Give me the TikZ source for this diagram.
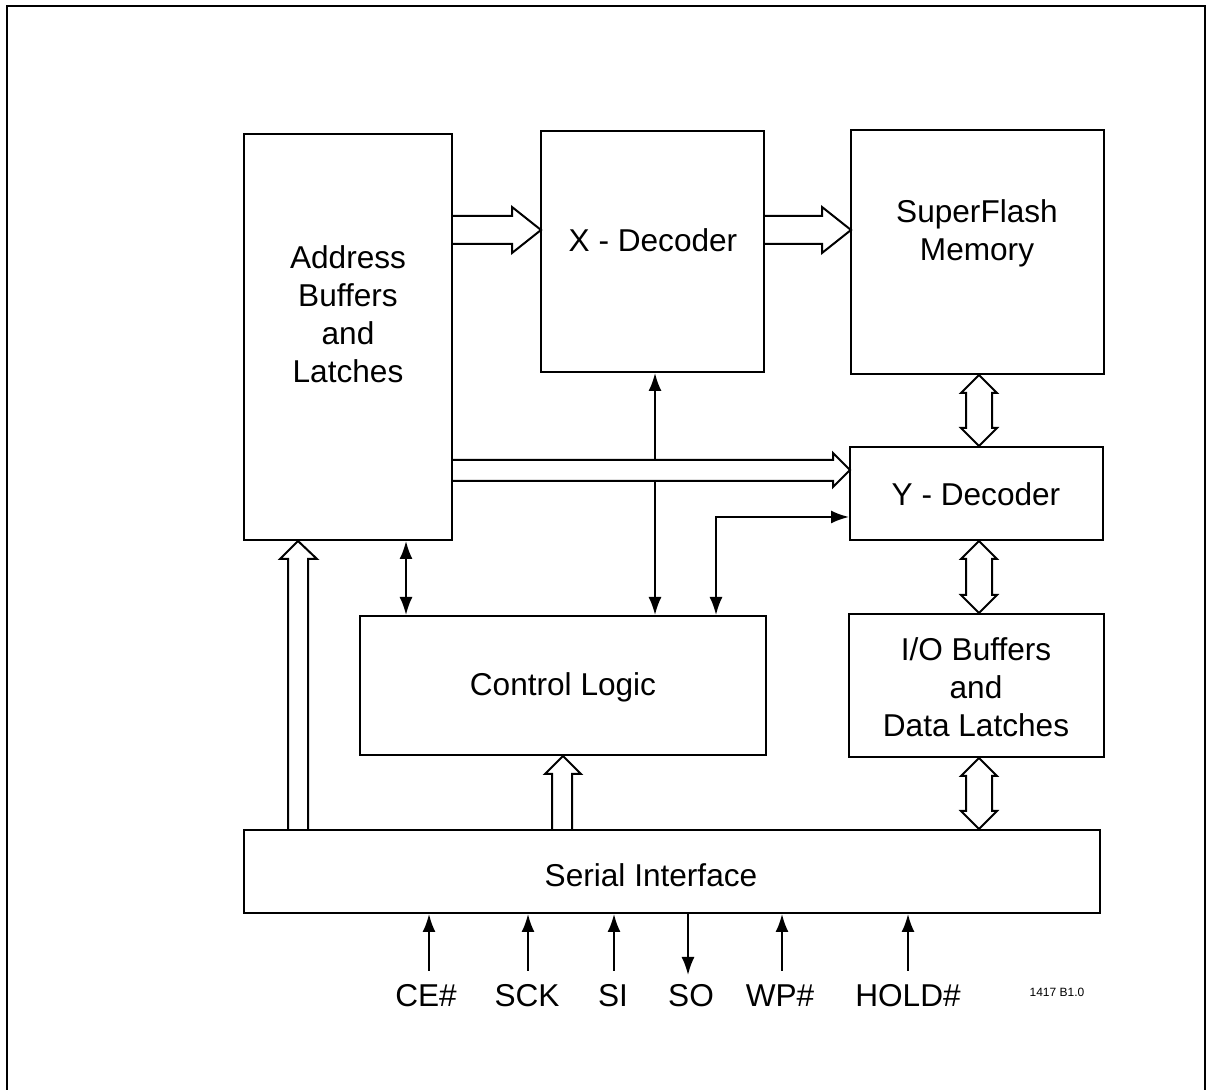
\documentclass[tikz,border=0pt]{standalone}
\usepackage{fontspec}
\setmainfont{Liberation Sans}
\usetikzlibrary{arrows.meta,fit}
\pgfdeclarelayer{background}
\pgfsetlayers{background,main}
\begin{document}
\begin{tikzpicture}[x=0.5pt,y=-0.5pt,
  box/.style={draw, line width=1pt, inner sep=0pt},
  txt/.style={font=\fontsize{15.8}{19}\selectfont, align=center, inner sep=0pt},
  hollow/.style={draw, fill=white, line width=1pt, line join=miter},
  sig/.style={line width=1pt, -{Latex[length=9pt,width=6.5pt]}},
  sigb/.style={line width=1pt, {Latex[length=9pt,width=6.5pt]}-{Latex[length=9pt,width=6.5pt]}}]
\useasboundingbox (0,0) rectangle (1212,1090);
% frame (open at the bottom)
\draw[line width=1.3pt] (7,1095) -- (7,6) -- (1205,6) -- (1205,1095);

% box corners
\coordinate (a1) at (244,134); \coordinate (a2) at (452,540);
\coordinate (x1) at (541,131); \coordinate (x2) at (764,372);
\coordinate (m1) at (851,130); \coordinate (m2) at (1104,374);
\coordinate (y1) at (850,447); \coordinate (y2) at (1103,540);
\coordinate (o1) at (849,614); \coordinate (o2) at (1104,757);
\coordinate (c1) at (360,616); \coordinate (c2) at (766,755);
\coordinate (s1) at (244,830); \coordinate (s2) at (1100,913);

\node[box, fit=(a1)(a2)] (addr) {};
\node[box, fit=(x1)(x2)] (xdec) {};
\node[box, fit=(m1)(m2)] (mem) {};
\node[box, fit=(y1)(y2)] (ydec) {};
\node[box, fit=(o1)(o2)] (io) {};
\node[box, fit=(c1)(c2)] (ctrl) {};
\node[box, fit=(s1)(s2)] (ser) {};

\node[txt] (addrt) at (348,314) {Address\\Buffers\\and\\Latches};
\node[txt] (xdect) at (653,240) {X - Decoder};
\node[txt] (memt) at (977,233) {SuperFlash\\Memory};
\node[txt] (ydect) at (976,494) {Y - Decoder};
\node[txt] (iot) at (976,687) {I/O Buffers\\and\\Data Latches};
\node[txt] (ctrlt) at (563,687) {Control Logic};
\node[txt] (sert) at (651,875) {Serial Interface};

\begin{pgfonlayer}{background}
% thin connectors
\draw[sigb] (xdec.south -| 655,0) -- (ctrl.north -| 655,0);
\draw[sigb] (addr.south -| 406,0) -- (ctrl.north -| 406,0);
\draw[sigb] (ctrl.north -| 716,0) -- (716,517) -- (ydec.west |- 0,517);

% hollow arrows
\draw[hollow] (452,216) -- (512,216) -- (512,207) -- (541,230) -- (512,253) -- (512,244) -- (452,244);
\draw[hollow] (764,216) -- (822,216) -- (822,207) -- (851,230) -- (822,253) -- (822,244) -- (764,244);
\draw[hollow] (452,460) -- (833,460) -- (833,453) -- (850,470) -- (833,487) -- (833,481) -- (452,481);
\draw[hollow] (288,830) -- (288,559) -- (280,559) -- (298,541) -- (317,559) -- (308,559) -- (308,830);
\draw[hollow] (552,830) -- (552,774) -- (545,774) -- (563,756) -- (581,774) -- (572,774) -- (572,830);
\draw[hollow] (979,375) -- (997,393) -- (992,393) -- (992,428) -- (997,428) -- (979,446) -- (961,428) -- (966,428) -- (966,393) -- (961,393) -- cycle;
\draw[hollow] (979,541) -- (997,559) -- (992,559) -- (992,595) -- (997,595) -- (979,613) -- (961,595) -- (966,595) -- (966,559) -- (961,559) -- cycle;
\draw[hollow] (979,758) -- (997,776) -- (992,776) -- (992,811) -- (997,811) -- (979,829) -- (961,811) -- (966,811) -- (966,776) -- (961,776) -- cycle;
\end{pgfonlayer}

% signals
\coordinate (pce) at (429,971);
\coordinate (psck) at (528,971);
\coordinate (psi) at (614,971);
\coordinate (pso) at (688,975);
\coordinate (pwp) at (782,971);
\coordinate (phold) at (908,971);
\draw[sig] (pce) -- (ser.south -| pce);
\draw[sig] (psck) -- (ser.south -| psck);
\draw[sig] (psi) -- (ser.south -| psi);
\draw[sig] (ser.south -| pso) -- (pso);
\draw[sig] (pwp) -- (ser.south -| pwp);
\draw[sig] (phold) -- (ser.south -| phold);

\node[txt] (lce) at (426,996) {CE\#};
\node[txt] (lsck) at (527,996) {SCK};
\node[txt] (lsi) at (613,996) {SI};
\node[txt] (lso) at (691,996) {SO};
\node[txt] (lwp) at (780,996) {WP\#};
\node[txt] (lhold) at (908,996) {HOLD\#};
\node[font=\fontsize{6}{7}\selectfont, inner sep=0pt] (code) at (1057,992) {1417 B1.0};
\end{tikzpicture}
\end{document}
